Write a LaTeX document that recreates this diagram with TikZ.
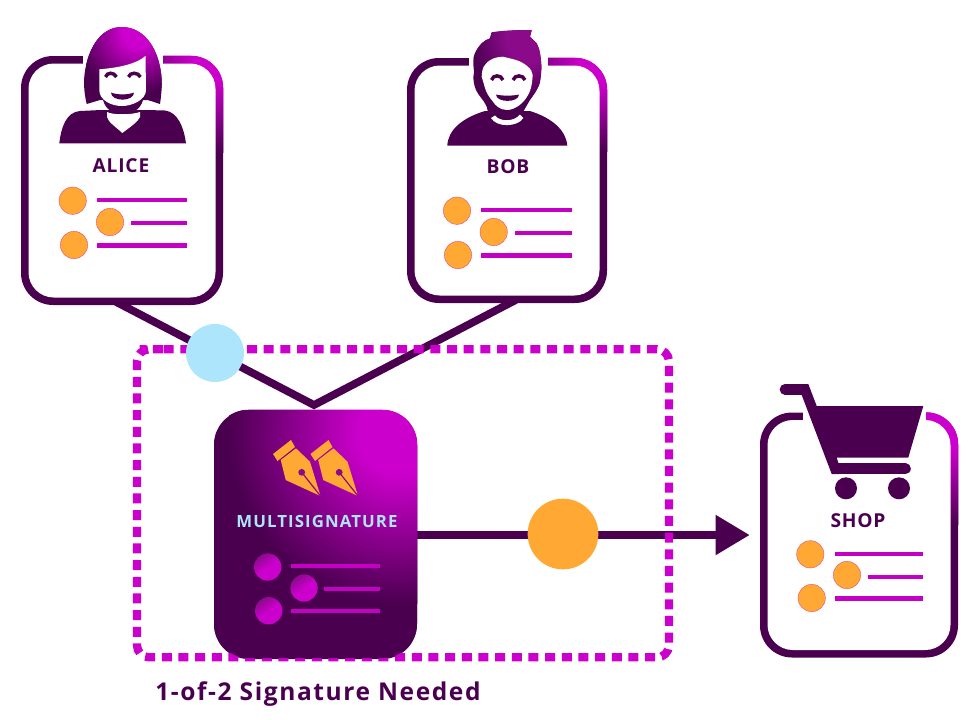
\documentclass[tikz,border=0pt]{standalone}
\usepackage{fontspec}
\setmainfont{Open Sans}
\newfontfamily\lblfont[LetterSpace=4]{Open Sans}
\newfontfamily\capfont[LetterSpace=6.5]{Open Sans}
\newfontfamily\notefont[LetterSpace=6.5]{Open Sans}
\usetikzlibrary{arrows.meta,calc}
\definecolor{dk}{HTML}{4A004F}
\definecolor{mag}{HTML}{CC00CC}
\definecolor{mid}{HTML}{8A0A8A}
\definecolor{org}{HTML}{FFA833}
\definecolor{sky}{HTML}{ADE5FC}
\pgfdeclareradialshading{glow}{\pgfpointorigin}{color(0bp)=(mag);color(6bp)=(mag);color(25bp)=(dk);color(50bp)=(dk)}
\pgfdeclareradialshading{softglow}{\pgfpointorigin}{color(0bp)=(mid);color(10bp)=(mid);color(25bp)=(dk);color(50bp)=(dk)}
\tikzset{
  outerbox/.style={rectangle,rounded corners=24pt,fill=dk,inner sep=0pt},
  innerbox/.style={rectangle,rounded corners=19pt,fill=white,inner sep=0pt},
  orgdot/.style={circle,fill=org,draw=mag!55!org,line width=.3pt,inner sep=0pt,minimum size=20.5pt},
  magdot/.style={circle,inner sep=0pt,minimum size=20.5pt,top color=mid,bottom color=mag,middle color=mag,shading angle=35},
  barline/.style={draw=mag!96!black,line width=3.4pt},
  connector/.style={draw=dk,line width=5.8pt,line join=miter},
  dashbox/.style={draw=mag,line width=6.2pt,dash pattern=on 7.5pt off 5pt,rounded corners=9pt},
  lbl/.style={text=dk,inner sep=0pt,font=\lblfont\bfseries\fontsize{14.4pt}{16pt}\selectfont}
}
\newcommand\mycard[8]{%
  \node[outerbox,minimum width=#4*0.75pt,minimum height=#5*0.75pt] (#1) at (#2,#3) {};
  \begin{scope}
    \clip[rounded corners=24pt] (#1.north west) rectangle (#1.south east);
    \shade[shading=glow] (#6,#7) circle (#8);
  \end{scope}
  \node[innerbox,minimum width=(#4-15)*0.75pt,minimum height=(#5-15)*0.75pt] (#1in) at (#2,#3) {};
}
\newcommand\mynib[1]{%
  \begin{scope}[shift={(#1,0)}]
    \fill[org] (273,454) -- (291,440) -- (295,447) -- (277.5,461) -- cycle;
    \fill[org] (280.7,460) -- (296,448.3) -- (310,461.7) -- (320.5,496) -- (285.7,480) -- cycle;
    \fill[mid] (301.7,472.3) circle (3.4);
    \draw[mid,line width=.9pt] (301.7,472.3) -- (320.5,496);
  \end{scope}
}
\begin{document}
\begin{tikzpicture}[x=0.75pt,y=-0.75pt]
\useasboundingbox (0,0) rectangle (978,719);
% geometry of the connector ends
\coordinate (join) at (314,405);
\coordinate (aliceanchor) at (122,305);
\coordinate (bobanchor) at (510,303);
\draw[connector,shorten <=-5pt,shorten >=-5pt] (aliceanchor) -- (join) -- (bobanchor);
% cards
\mycard{alice}{122}{180.5}{202}{249}{217}{58}{95}
\mycard{bob}{507}{180.5}{200}{245}{602}{62}{90}
\mycard{shop}{859}{535}{198}{245}{952}{425}{100}
% top gaps
\fill[white] (83,50) rectangle (163,70);
\fill[white] (469,50) rectangle (548,70);
\fill[white] (803,405) rectangle (926,425);
% multisignature card
\node[outerbox,rounded corners=26pt,minimum width=203*0.75pt,minimum height=248*0.75pt] (multi) at (315.5,535) {};
\draw[connector,shorten >=7.5pt,-{Triangle[length=25.5pt,width=28.5pt]}] (multi.east) -- (shop.west);
% dashed group
\draw[dashbox] (151.7,349.3) -- (669,349.3) -- (669,657.3) -- (137,657.3) -- (137,349.3) -- cycle;
\node[outerbox,rounded corners=26pt,minimum width=203*0.75pt,minimum height=248*0.75pt] (multitop) at (315.5,534) {};
\begin{scope}
  \clip[rounded corners=26pt] (multitop.north west) rectangle (multitop.south east);
  \shade[shading=glow] (400,433) circle (172);
\end{scope}
\node[circle,fill=sky,inner sep=0pt,minimum size=43.5pt] (blue) at (215,353) {};
\node[circle,fill=org,inner sep=0pt,minimum size=53pt] (orange) at (563,534) {};
% Alice figure
\begin{scope}
  \clip (121.7,27) .. controls (100,27) and (86,50) .. (84,80) .. controls (84,90) and (85,97) .. (86.7,104) -- (100,100) -- (147.7,100) -- (160,104) .. controls (161,97) and (162,90) .. (161.7,80) .. controls (160,50) and (145,27) .. (121.7,27) -- cycle;
  \fill[dk] (70,20) rectangle (170,110);
  \shade[shading=glow] (137,33) circle (60);
\end{scope}
\fill[dk] (103,100) .. controls (106,110) and (112,113) .. (122,113.5) .. controls (134,113) and (140,110) .. (143,100) -- cycle;
\fill[white] (99.3,69.3) .. controls (115,68) and (135,65) .. (145.5,56) -- (146,90) .. controls (146,100) and (132,106) .. (122,106) .. controls (111,106) and (99.3,100) .. (99.3,90) -- cycle;
\draw[dk,line width=2.6pt] (105.5,77) .. controls (107,72) and (114,72) .. (116.5,77);
\draw[dk,line width=2.6pt] (128.5,77) .. controls (130,72) and (138,72) .. (140.5,77);
\fill[dk] (111,92.5) .. controls (117,95) and (128,95) .. (134,92.5) .. controls (134,102) and (111,102) .. (111,92.5) -- cycle;
\fill[dk] (59.3,143.3) .. controls (61,128) and (66,112) .. (80,111) -- (101,110) -- (147,110) -- (165,110.5) .. controls (178,112) and (184,128) .. (186,143.3) -- cycle;
\fill[white] (107,112) .. controls (112,115) and (132,115) .. (140,112) -- (140,117) .. controls (138,122) and (130,127) .. (122.3,133) .. controls (116,127) and (108,122) .. (107,117) -- cycle;
% Bob figure
\fill[dk] (447.3,145.7) .. controls (448,130) and (462,118) .. (485,111) -- (530,111) .. controls (552,118) and (566,130) .. (567.3,145.7) -- cycle;
\begin{scope}
  \clip (491.7,32.3) -- (503.3,31) -- (520,30) -- (531.7,30) -- (530,36.7) -- (536.7,43.3) .. controls (539,48) and (540,52) .. (540.7,58) .. controls (542,68) and (541,75) .. (540,81.7) .. controls (538,90) and (533,95) .. (530,100) -- (523,112) -- (488,112) -- (486.7,106.7) .. controls (484,100) and (478,95) .. (476,90) .. controls (473,82) and (473,78) .. (474,72) .. controls (473,62) and (473,58) .. (475,53.3) .. controls (477,49) and (479,46) .. (481.7,43.3) .. controls (484,41) and (487,39.5) .. (490,38.3) -- cycle;
  \fill[dk] (470,20) rectangle (550,115);
  \shade[shading=softglow] (530,38) circle (60);
\end{scope}
\fill[white] (481.7,76.7) .. controls (482,70) and (483,67) .. (485,65) .. controls (490,58) and (497,57) .. (503,56.7) .. controls (512,59) and (520,60) .. (526.7,65.7) .. controls (531,69) and (532.5,72) .. (532.7,75) .. controls (532,85) and (531,90) .. (528,95) .. controls (524,103) and (515,110) .. (506.7,110) .. controls (500,110) and (495,105) .. (493,101.7) .. controls (489,97) and (486,92) .. (485,88) -- cycle;
\draw[dk,line width=2.6pt] (491.5,80) .. controls (493,74.5) and (501,74.5) .. (503,80);
\draw[dk,line width=2.6pt] (513,80) .. controls (515,74.5) and (523,74.5) .. (525,80);
\fill[dk] (496,94.5) .. controls (502,96) and (513,96) .. (519,94.5) .. controls (519,103) and (496,103) .. (496,94.5) -- cycle;
\fill[white] (491,118) -- (495,115.5) .. controls (500,122) and (514,122) .. (520,114.5) -- (523.3,118) .. controls (518,127) and (497,128) .. (491,118) -- cycle;
% cart
\draw[dk,line width=8pt,line cap=round] (785,389.3) -- (803,389.3);
\fill[dk] (798,384) -- (808.3,384) -- (816.7,406) -- (923.3,406) -- (908.3,457.5) -- (836.7,457.5) -- (838.5,463.3) -- (838.5,474) -- (831.7,474) -- (801.7,395) -- cycle;
\draw[dk,line width=8pt,line cap=round] (837,468.7) -- (905.5,468.7);
\fill[dk] (846,488.3) circle (11);
\fill[dk] (899,488.3) circle (11);
% labels
\node[lbl] (alicelabel) at (121,166) {ALICE};
\node[lbl] (boblabel) at (508,167) {BOB};
\node[lbl] (shoplabel) at (858,520.5) {SHOP};
\node[lbl,text=sky,font=\capfont\bfseries\fontsize{12.6pt}{14pt}\selectfont] (multilabel) at (317,521) {MULTISIGNATURE};
\node[lbl,anchor=base west,font=\notefont\bfseries\fontsize{18.4pt}{20pt}\selectfont] (needed) at (155,700) {1-of-2 Signature Needed};
% pens
\mynib{0}
\mynib{37.5}
% alice list
\node[orgdot] (a1) at (72.7,200.7) {};
\node[orgdot] (a2) at (110,222) {};
\node[orgdot] (a3) at (74,245) {};
\draw[barline] (97,200) -- (187,200);
\draw[barline] (131,223) -- (187,223);
\draw[barline] (97,245.5) -- (187,245.5);
% bob list
\node[orgdot] (b1) at (457,210.7) {};
\node[orgdot] (b2) at (493.7,232) {};
\node[orgdot] (b3) at (458,255) {};
\draw[barline] (481,210) -- (572,210);
\draw[barline] (515,233) -- (572,233);
\draw[barline] (481,255.5) -- (572,255.5);
% shop list
\node[orgdot] (s1) at (810.3,554.3) {};
\node[orgdot] (s2) at (847,575) {};
\node[orgdot] (s3) at (811.7,598) {};
\draw[barline] (835,554) -- (923,554);
\draw[barline] (868,577) -- (923,577);
\draw[barline] (835,598.5) -- (923,598.5);
% multisig list
\node[magdot] (m1) at (267.7,567) {};
\node[magdot] (m2) at (304,588) {};
\node[magdot] (m3) at (268.7,610.7) {};
\draw[barline] (291,566) -- (380,566);
\draw[barline] (324,589) -- (380,589);
\draw[barline] (291,611) -- (380,611);
\end{tikzpicture}
\end{document}
